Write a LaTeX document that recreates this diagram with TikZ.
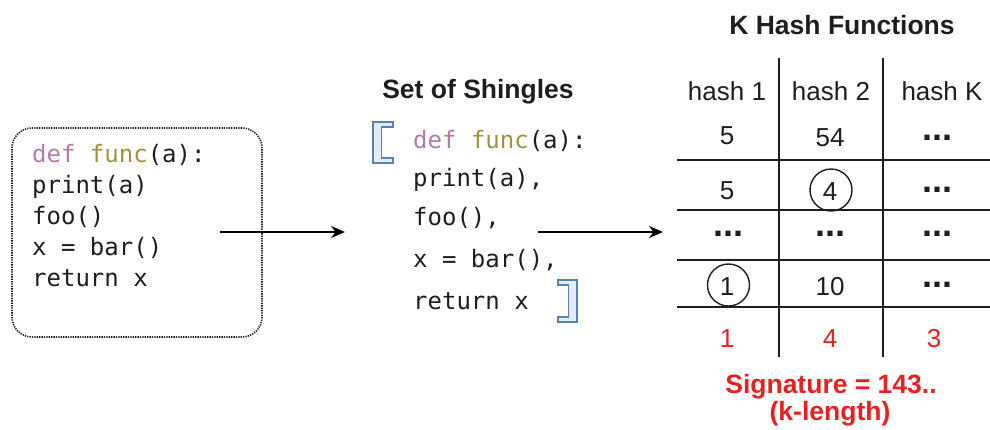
\documentclass[tikz,border=0pt]{standalone}
\usepackage{fontspec}
\setmainfont{Liberation Sans}
\newfontfamily\codefont{DejaVu Sans Mono}
\usetikzlibrary{arrows.meta}
\definecolor{kw}{RGB}{176,124,168}
\definecolor{fn}{RGB}{156,148,64}
\definecolor{brfill}{RGB}{224,236,250}
\definecolor{brdraw}{RGB}{92,130,176}
\definecolor{sigred}{RGB}{232,32,32}
\definecolor{ink}{RGB}{30,30,30}
\begin{document}
\begin{tikzpicture}[x=1pt,y=-1pt,
  code/.style={anchor=base west, inner sep=0pt, font=\codefont\fontsize{24}{24}\selectfont, text=ink},
  cell/.style={anchor=base, inner sep=0pt, font=\fontsize{26}{26}\selectfont, text=ink},
  redcell/.style={cell, text=sigred},
  dotcell/.style={anchor=base, inner sep=0pt, font=\fontsize{36}{36}\selectfont\bfseries, text=ink},
  title/.style={anchor=base, inner sep=0pt, font=\fontsize{26.5}{26.5}\selectfont\bfseries, text=ink},
  sig/.style={anchor=base, inner sep=0pt, font=\fontsize{26.5}{26.5}\selectfont\bfseries, text=sigred},
  flow/.style={line width=1.8pt, -{Stealth[length=14pt,width=12pt]}},
  grid/.style={line width=1.6pt, draw=ink},
  bracket/.style={fill=brfill, draw=brdraw, line width=1.6pt, line join=miter},
  ring/.style={circle, draw=ink, line width=1.4pt, minimum size=42pt, inner sep=0pt}
]
\useasboundingbox (0,0) rectangle (990,429);

% left source box
\node[draw=ink, line width=1.6pt, dash pattern=on 1.3pt off 1.1pt, rounded corners=20pt,
      minimum width=250pt, minimum height=209pt, inner sep=0pt] (src) at (137,232.5) {};
\node[code] (l1) at (32,162) {{\color{kw}def} {\color{fn}func}(a):};
\node[code] (l2) at (32,193) {print(a)};
\node[code] (l3) at (32,224) {foo()};
\node[code] (l4) at (32,255) {x = bar()};
\node[code] (l5) at (32,286) {return x};

% arrow 1
\coordinate (a1s) at (220,232);
\coordinate (a1e) at (345,232);
\draw[flow] (a1s) -- (a1e);

% middle: set of shingles
\node[title] (shtitle) at (478,98) {Set of Shingles};
\draw[bracket] (373,122) -- (393,122) -- (393,127) -- (381.5,127) -- (381.5,158) -- (393,158) -- (393,163) -- (373,163) -- cycle;
\draw[bracket] (577,280) -- (558,280) -- (558,285) -- (568.5,285) -- (568.5,317) -- (558,317) -- (558,322) -- (577,322) -- cycle;
\node[code] (m1) at (413,148) {{\color{kw}def} {\color{fn}func}(a):};
\node[code] (m2) at (413,186) {print(a),};
\node[code] (m3) at (413,225) {foo(),};
\node[code] (m4) at (413,267) {x = bar(),};
\node[code] (m5) at (413,309) {return x};

% arrow 2
\coordinate (a2s) at (538,232);
\coordinate (a2e) at (663,232);
\draw[flow] (a2s) -- (a2e);

% right: hash table
\node[title] (khtitle) at (842,34) {K Hash Functions};
\draw[grid] (779,58) -- (779,357);
\draw[grid] (883,58) -- (883,357);
\draw[grid] (677,160) -- (990,160);
\draw[grid] (677,210) -- (990,210);
\draw[grid] (677,260) -- (990,260);
\draw[grid] (677,307) -- (990,307);

\node[cell] (h1) at (727,100) {hash 1};
\node[cell] (h2) at (831,100) {hash 2};
\node[cell] (hk) at (942,100) {hash K};

\node[cell] (r1a) at (727,144) {5};
\node[cell] (r1b) at (830,146) {54};
\node[dotcell] (r1c) at (937,140) {...};

\node[cell] (r2a) at (727,199) {5};
\node[cell] (r2b) at (830,200) {4};
\node[ring] (c4) at (831,190) {};
\node[dotcell] (r2c) at (937,192) {...};

\node[dotcell] (r3a) at (728,236) {...};
\node[dotcell] (r3b) at (830,236) {...};
\node[dotcell] (r3c) at (937,236) {...};

\node[cell] (r4a) at (727,295) {1};
\node[ring] (c1) at (728.5,285) {};
\node[cell] (r4b) at (830,295) {10};
\node[dotcell] (r4c) at (937,287) {...};

\node[redcell] (s1) at (727,347) {1};
\node[redcell] (s2) at (830,347) {4};
\node[redcell] (s3) at (934,347) {3};

\node[sig] (sig1) at (831,393) {Signature = 143..};
\node[sig] (sig2) at (830,420) {(k-length)};
\end{tikzpicture}
\end{document}
